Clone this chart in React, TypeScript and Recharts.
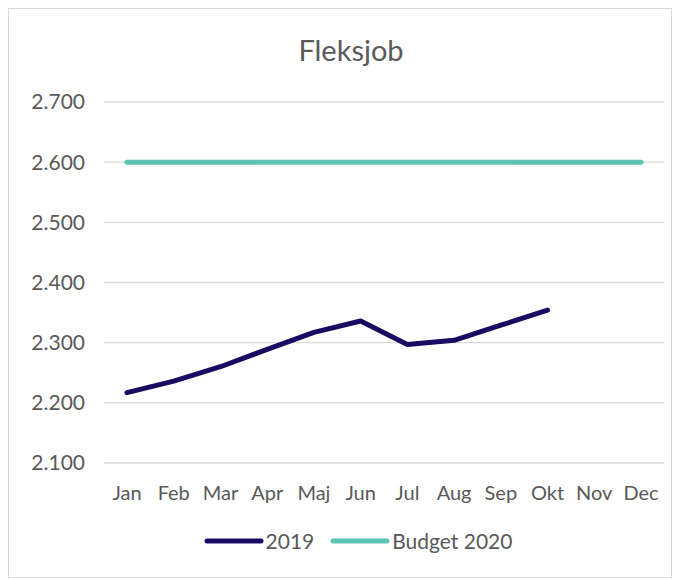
import React from "react";
import { LineChart, Line, XAxis, YAxis, CartesianGrid, Legend } from "recharts";

const months = ["Jan", "Feb", "Mar", "Apr", "Maj", "Jun", "Jul", "Aug", "Sep", "Okt", "Nov", "Dec"];
const values2019: (number | null)[] = [2217, 2236, 2260, 2289, 2317, 2336, 2297, 2304, 2329, 2354, null, null];
const budget2020: number[] = [2600, 2600, 2600, 2600, 2600, 2600, 2600, 2600, 2600, 2600, 2600, 2600];
const yTicks = [2100, 2200, 2300, 2400, 2500, 2600, 2700];

const data = months.map((m, i) => ({ month: m, y2019: values2019[i], budget: budget2020[i] }));

const FONT = "Lato, 'Open Sans', sans-serif";
const TEXT = "#595959";
const NAVY = "#1a0b62";
const TEAL = "#5cc4b4";

const fmtTick = (v: number) => {
  const s = String(v);
  return s.slice(0, s.length - 3) + "." + s.slice(-3);
};

const LegendContent = () => {
  const items = [
    { label: "2019", color: NAVY },
    { label: "Budget 2020", color: TEAL },
  ];
  return (
    <div style={{ display: "flex", justifyContent: "center", alignItems: "center", paddingLeft: 36, fontFamily: FONT, fontSize: 21, color: TEXT, lineHeight: "26px" }}>
      {items.map((it, idx) => (
        <div key={it.label} style={{ display: "flex", alignItems: "center", marginLeft: idx ? 16 : 0 }}>
          <svg width={60} height={10} style={{ display: "block" }}>
            <line x1={3} y1={5} x2={57} y2={5} stroke={it.color} strokeWidth={5} strokeLinecap="round" />
          </svg>
          <span style={{ marginLeft: 2 }}>{it.label}</span>
        </div>
      ))}
    </div>
  );
};

export default function App() {
  return (
    <div style={{ position: "relative", width: 662, height: 568, border: "1px solid #d9d9d9", background: "#fff" }}>
      <div style={{ position: "absolute", top: 23, left: 0, width: 684, textAlign: "center", fontFamily: FONT, fontSize: 29, color: TEXT }}>
        Fleksjob
      </div>
      <LineChart width={662} height={568} data={data} margin={{ top: 93, right: 7, bottom: 64, left: 0 }}>
        <CartesianGrid vertical={false} stroke="#d9d9d9" strokeWidth={1.3} />
        <XAxis
          dataKey="month"
          axisLine={false}
          tickLine={false}
          tickSize={0}
          tickMargin={23}
          interval={0}
          height={50}
          padding={{ left: 23, right: 23 }}
          tick={{ fill: TEXT, fontSize: 20, fontFamily: FONT }}
        />
        <YAxis
          domain={[2100, 2700]}
          ticks={yTicks}
          axisLine={false}
          tickLine={false}
          tickSize={0}
          tickMargin={19}
          width={95}
          tickFormatter={fmtTick}
          tick={{ fill: TEXT, fontSize: 21, fontFamily: FONT }}
        />
        <Legend verticalAlign="middle" content={<LegendContent />} wrapperStyle={{ top: 519, left: 0, width: 662 }} />
        <Line dataKey="budget" name="Budget 2020" stroke={TEAL} strokeWidth={5} strokeLinecap="round" dot={false} activeDot={false} isAnimationActive={false} />
        <Line dataKey="y2019" name="2019" stroke={NAVY} strokeWidth={5} strokeLinecap="round" strokeLinejoin="round" dot={false} activeDot={false} isAnimationActive={false} />
      </LineChart>
    </div>
  );
}
